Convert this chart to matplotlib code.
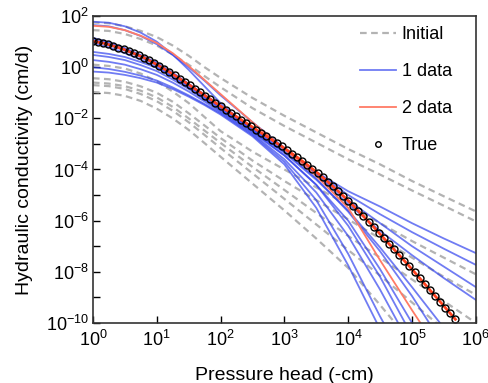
import numpy as np
import matplotlib.pyplot as plt
from matplotlib.ticker import FixedLocator, NullFormatter, NullLocator

plt.rcParams['font.family'] = 'Liberation Sans'
plt.rcParams['mathtext.fontset'] = 'custom'
plt.rcParams['mathtext.rm'] = 'Liberation Sans'
plt.rcParams['mathtext.it'] = 'Liberation Sans'

# pressure head grid for the fitted curves (log10 of -cm)
logh_grid = [0, 0.25, 0.5, 0.75, 1, 1.25, 1.5, 1.75, 2, 2.5, 3, 3.5, 4, 4.5, 5, 5.5, 6]

# log10 K (cm/d) of the initial guesses
initial = [
    [1.75, 1.72, 1.60, 1.42, 1.18, 0.85, 0.45, 0.00, -0.42, -1.20, -1.90, -2.55, -3.20, -3.80, -4.45, -5.05, -5.64],
    [1.45, 1.42, 1.30, 1.10, 0.85, 0.50, 0.10, -0.35, -0.78, -1.60, -2.30, -2.95, -3.60, -4.20, -4.82, -5.42, -6.03],
    [0.10, 0.05, -0.05, -0.25, -0.55, -0.95, -1.40, -1.95, -2.50, -3.30, -4.00, -4.70, -5.40, -6.10, -6.80, -7.45, -8.10],
    [-0.43, -0.47, -0.57, -0.75, -1.00, -1.35, -1.80, -2.28, -2.77, -3.65, -4.45, -5.20, -5.95, -6.70, -7.45, -8.20, -8.90],
    [-0.60, -0.64, -0.74, -0.92, -1.18, -1.55, -2.00, -2.48, -2.96, -3.90, -4.80, -5.70, -6.60, -7.45, -8.30, -9.15, -10.0],
    [-0.70, -0.74, -0.85, -1.05, -1.33, -1.70, -2.15, -2.65, -3.16, -4.15, -5.15, -6.15, -7.15, -8.15, -9.20, -10.25, -11.3],
    [-0.97, -1.01, -1.12, -1.32, -1.62, -2.00, -2.45, -2.97, -3.50, -4.55, -5.60, -6.70, -7.85, -9.30, -10.8, -12.3, -13.8],
]

# log10 K of the fits with one data set
one_data = [
    [1.65, 1.60, 1.45, 1.22, 0.90, 0.48, 0.00, -0.53, -1.10, -2.15, -3.15, -4.10, -4.85, -5.45, -6.10, -6.70, -7.27],
    [1.05, 0.88, 0.65, 0.39, 0.08, -0.30, -0.72, -1.14, -1.57, -2.40, -3.20, -4.10, -5.00, -5.75, -6.45, -7.10, -7.73],
    [0.95, 0.78, 0.55, 0.30, 0.00, -0.38, -0.80, -1.22, -1.65, -2.50, -3.30, -4.20, -5.20, -6.10, -7.00, -7.80, -8.60],
    [1.10, 0.93, 0.72, 0.46, 0.15, -0.23, -0.65, -1.07, -1.50, -2.35, -3.20, -4.20, -5.35, -6.40, -7.35, -8.25, -9.10],
    [-0.17, -0.21, -0.30, -0.43, -0.60, -0.85, -1.15, -1.48, -1.85, -2.70, -3.80, -5.50, -7.75, -10.25, -12.5, -14.5, -16.5],
    [0.00, -0.07, -0.18, -0.33, -0.52, -0.79, -1.10, -1.44, -1.80, -2.65, -3.70, -5.20, -7.30, -9.75, -12.0, -14.0, -16.0],
    [0.28, 0.21, 0.10, -0.08, -0.30, -0.60, -0.95, -1.34, -1.75, -2.60, -3.60, -4.90, -6.60, -8.70, -11.0, -13.0, -15.0],
    [1.78, 1.74, 1.60, 1.35, 1.00, 0.50, -0.10, -0.75, -1.40, -2.50, -3.45, -4.60, -6.20, -8.20, -10.5, -12.5, -14.5],
    [0.48, 0.40, 0.28, 0.08, -0.15, -0.48, -0.85, -1.27, -1.70, -2.55, -3.45, -4.60, -6.00, -7.90, -10.0, -12.0, -14.0],
    [1.15, 0.98, 0.75, 0.48, 0.18, -0.22, -0.65, -1.10, -1.55, -2.42, -3.30, -4.35, -5.65, -7.20, -8.95, -10.9, -12.8],
    [0.60, 0.52, 0.40, 0.20, -0.02, -0.36, -0.75, -1.17, -1.60, -2.45, -3.35, -4.40, -5.60, -7.05, -8.60, -10.2, -11.8],
]

# log10 K of the fit with two data sets that misses the true curve
two_data = [1.62, 1.58, 1.45, 1.23, 0.95, 0.55, 0.05, -0.50, -1.05, -2.15, -3.20, -4.25, -5.50, -7.55, -9.50, -11.4, -13.3]

# true curve, sampled every 0.08 decade of pressure head
h_true = np.logspace(0, 5.68, 72)
true_logk = [
    1.02, 0.98, 0.94, 0.89, 0.83, 0.77, 0.70, 0.62, 0.54, 0.46, 0.37, 0.27,
    0.16, 0.05, -0.07, -0.19, -0.32, -0.45, -0.58, -0.71, -0.85, -0.98, -1.12, -1.25,
    -1.39, -1.52, -1.66, -1.79, -1.92, -2.05, -2.18, -2.31, -2.44, -2.57, -2.70, -2.83,
    -2.97, -3.10, -3.24, -3.38, -3.52, -3.67, -3.82, -3.98, -4.14, -4.31, -4.48, -4.66,
    -4.84, -5.03, -5.22, -5.42, -5.62, -5.83, -6.04, -6.25, -6.47, -6.69, -6.91, -7.13,
    -7.35, -7.57, -7.79, -8.02, -8.25, -8.48, -8.71, -8.94, -9.17, -9.40, -9.63, -9.86,
]

h_grid = 10.0 ** np.array(logh_grid)

fig = plt.figure(figsize=(4.89, 3.83), dpi=100)
ax = fig.add_axes([0.190, 0.157, 0.783, 0.801])

for i, k in enumerate(initial):
    ax.plot(h_grid, 10.0 ** np.array(k), color='#b3b3b3', lw=1.6, ls=(0, (3, 2)),
            label='Initial' if i == 0 else None)
for i, k in enumerate(one_data):
    ax.plot(h_grid, 10.0 ** np.array(k), color='#3344ee', lw=1.3, alpha=0.7,
            label='1 data' if i == 0 else None)
ax.plot(h_grid, 10.0 ** np.array(two_data), color='#ff7b66', lw=1.3, label='2 data')
ax.plot(h_true, 10.0 ** np.array(true_logk), color='#ff4422', lw=2.0)
ax.plot(h_true, 10.0 ** np.array(true_logk), ls='none', marker='o', ms=5,
        mfc='none', mec='black', mew=1.0)
# legend handle for the true curve (smaller circle)
ax.plot([], [], ls='none', marker='o', ms=4, mfc='none', mec='black', mew=1.0, label='True')

ax.set_xscale('log')
ax.set_yscale('log')
ax.set_xlim(1, 1e6)
ax.set_ylim(1e-10, 1e2)

ax.xaxis.set_major_locator(FixedLocator([10.0 ** p for p in range(0, 7)]))
ax.xaxis.set_minor_locator(NullLocator())
ax.set_xticklabels([r'$10^{%d}$' % p for p in range(0, 7)])
ax.yaxis.set_major_locator(FixedLocator([10.0 ** p for p in range(-10, 3, 2)]))
ax.set_yticklabels([r'$10^{%d}$' % p for p in range(-10, 3, 2)])
ax.yaxis.set_minor_locator(FixedLocator([10.0 ** p for p in range(-9, 2, 2)]))
ax.yaxis.set_minor_formatter(NullFormatter())

ax.tick_params(which='both', direction='in', length=5, width=1, labelsize=13,
               top=False, right=False)
ax.tick_params(axis='x', pad=5)
ax.tick_params(axis='y', pad=3)
for s in ax.spines.values():
    s.set_linewidth(1.2)
    s.set_color('#333333')

ax.set_xlabel('Pressure head (-cm)', fontsize=14, labelpad=12)
ax.set_ylabel('Hydraulic conductivity (cm/d)', fontsize=14, labelpad=9)

ax.legend(loc='upper left', bbox_to_anchor=(0.679, 0.99), borderaxespad=0,
          frameon=False, fontsize=13, handlelength=2.0, handletextpad=0.3,
          labelspacing=1.1)

fig.savefig('out.png', dpi=100)
